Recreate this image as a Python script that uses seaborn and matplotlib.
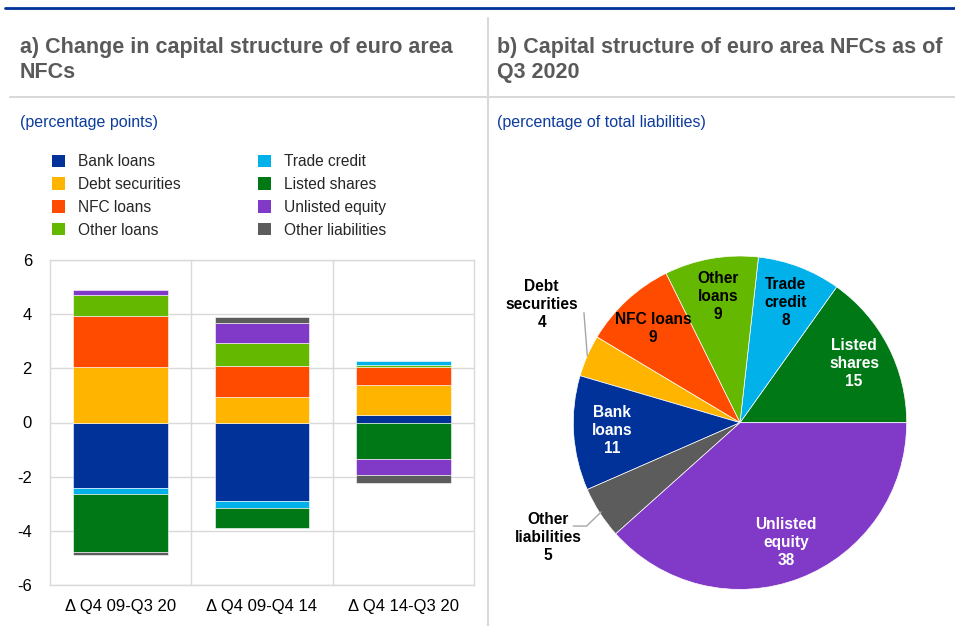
import matplotlib
import numpy as np
import pandas as pd
import seaborn as sns

matplotlib.use("Agg")
import matplotlib.pyplot as plt
from matplotlib.lines import Line2D
from matplotlib.patches import Patch


CATEGORIES = ["\u0394 Q4 09-Q3 20", "\u0394 Q4 09-Q4 14", "\u0394 Q4 14-Q3 20"]
SERIES = [
    "Bank loans", "Debt securities", "NFC loans", "Other loans",
    "Trade credit", "Listed shares", "Unlisted equity", "Other liabilities",
]
BANK_LOANS = [-2.43, -2.90, 0.27]
DEBT_SECURITIES = [2.05, 0.96, 1.11]
NFC_LOANS = [1.88, 1.14, 0.68]
OTHER_LOANS = [0.76, 0.84, 0.05]
TRADE_CREDIT = [-0.22, -0.24, 0.15]
LISTED_SHARES = [-2.14, -0.77, -1.36]
UNLISTED_EQUITY = [0.21, 0.73, -0.56]
OTHER_LIABILITIES = [-0.10, 0.22, -0.33]

PIE_NAMES = [
    "Listed shares", "Trade credit", "Other loans", "NFC loans",
    "Debt securities", "Bank loans", "Other liabilities", "Unlisted equity",
]
PIE_TEXT = [
    "Listed\nshares", "Trade\ncredit", "Other\nloans", "NFC loans",
    "Debt\nsecurities", "Bank\nloans", "Other\nliabilities", "Unlisted\nequity",
]
PIE_VALUES = [15, 8, 9, 9, 4, 11, 5, 38]

TITLE_A = ["a) Change in capital structure of euro area", "NFCs"]
TITLE_B = ["b) Capital structure of euro area NFCs as of", "Q3 2020"]

PALETTE = {
    "Bank loans": "#003299",
    "Debt securities": "#FFB400",
    "NFC loans": "#FF4B00",
    "Other loans": "#65B800",
    "Trade credit": "#00B1EA",
    "Listed shares": "#007816",
    "Unlisted equity": "#8139C7",
    "Other liabilities": "#5C5C5C",
}
WHITE_TEXT = {"Bank loans", "Listed shares", "Unlisted equity"}

sns.set_theme(style="whitegrid")
plt.rcParams["font.family"] = ["Liberation Sans", "DejaVu Sans"]
plt.rcParams["axes.unicode_minus"] = False

changes = pd.DataFrame({
    "Bank loans": BANK_LOANS,
    "Debt securities": DEBT_SECURITIES,
    "NFC loans": NFC_LOANS,
    "Other loans": OTHER_LOANS,
    "Trade credit": TRADE_CREDIT,
    "Listed shares": LISTED_SHARES,
    "Unlisted equity": UNLISTED_EQUITY,
    "Other liabilities": OTHER_LIABILITIES,
}, index=CATEGORIES)

fig = plt.figure(figsize=(9.55, 6.26), dpi=100)
fig.patch.set_facecolor("white")

# frame lines and headings
fig.add_artist(Line2D([5 / 955, 1], [1 - 8 / 626] * 2, color="#003299", lw=2))
fig.add_artist(Line2D([488 / 955] * 2, [0, 1 - 18 / 626], color="#D9D9D9", lw=1.5))
fig.add_artist(Line2D([10 / 955, 1], [1 - 97 / 626] * 2, color="#D9D9D9", lw=1.5))

title_kw = dict(fontsize=15.5, fontweight="bold", color="#5A5A5A", va="baseline", ha="left")
for i, (line_a, line_b) in enumerate(zip(TITLE_A, TITLE_B)):
    ybase = 1 - (53 + 25 * i) / 626
    fig.text(20 / 955, ybase, line_a, **title_kw)
    fig.text(497 / 955, ybase, line_b, **title_kw)
sub_kw = dict(fontsize=11.5, color="#0D3C9E", va="center", ha="left")
fig.text(20 / 955, 1 - 122 / 626, "(percentage points)", **sub_kw)
fig.text(497 / 955, 1 - 122 / 626, "(percentage of total liabilities)", **sub_kw)

# panel a: stacked bars
ax = fig.add_axes([50 / 955, 1 - 585 / 626, 424 / 955, 325 / 626])
x = np.arange(len(CATEGORIES))
pos_bottom = np.zeros(len(CATEGORIES))
neg_bottom = np.zeros(len(CATEGORIES))
for name in SERIES:
    vals = changes[name].to_numpy()
    bottoms = np.where(vals >= 0, pos_bottom, neg_bottom)
    ax.bar(x, vals, bottom=bottoms, width=0.67, color=PALETTE[name],
           edgecolor="white", linewidth=0.4, zorder=3)
    pos_bottom += np.where(vals >= 0, vals, 0)
    neg_bottom += np.where(vals < 0, vals, 0)

ax.set_xlim(-0.5, len(CATEGORIES) - 0.5)
ax.set_ylim(-6, 6)
ax.set_yticks(range(-6, 7, 2))
ax.set_xticks(x)
ax.set_xticklabels(CATEGORIES)
ax.set_xticks(x[:-1] + 0.5, minor=True)
ax.grid(False)
ax.grid(axis="y", which="major", color="#D9D9D9", lw=1, zorder=0)
ax.grid(axis="x", which="minor", color="#D9D9D9", lw=1, zorder=0)
ax.tick_params(axis="both", which="both", length=0, labelsize=12, colors="black")
ax.tick_params(axis="x", pad=10)
ax.tick_params(axis="y", pad=13)
ax.set_facecolor("white")
for spine in ax.spines.values():
    spine.set_color("#D9D9D9")
    spine.set_linewidth(1)

handles = [Patch(facecolor=PALETTE[n], edgecolor="none") for n in SERIES]
fig.legend(handles, SERIES, loc="upper left", bbox_to_anchor=(46 / 955, 1 - 148 / 626),
           ncol=2, frameon=False, fontsize=11.2, handlelength=0.8, handleheight=0.85,
           handletextpad=0.85, columnspacing=5.0, labelspacing=0.5, borderaxespad=0)

# panel b: pie
R = 166.7
pax = fig.add_axes([(740 - 1.25 * R) / 955, (626 - 422.7 - 1.25 * R) / 626,
                    2.5 * R / 955, 2.5 * R / 626])
wedges, _ = pax.pie(PIE_VALUES, colors=[PALETTE[n] for n in PIE_NAMES], startangle=0,
                    counterclock=True, wedgeprops=dict(edgecolor="white", linewidth=0.5))
pax.set_aspect("equal")

lab_kw = dict(fontsize=11.2, fontweight="bold", ha="center", va="center", linespacing=1.25)
for w, name, txt, val in zip(wedges, PIE_NAMES, PIE_TEXT, PIE_VALUES):
    mid = np.deg2rad((w.theta1 + w.theta2) / 2)
    label = f"{txt}\n{val}"
    color = "white" if name in WHITE_TEXT else "black"
    if name == "Debt securities":
        ex, ey = np.cos(mid), np.sin(mid)
        pax.add_line(Line2D([ex, ex - 0.02], [ey, 0.66], color="#A6A6A6", lw=1))
        pax.text(-1.19, 0.71, label, color="black", **lab_kw)
    elif name == "Other liabilities":
        ex, ey = 0.99 * np.cos(mid), 0.99 * np.sin(mid)
        pax.add_line(Line2D([ex, -0.92, -1.0], [ey, -0.62, -0.62], color="#A6A6A6", lw=1))
        pax.text(-1.15, -0.69, label, color="black", **lab_kw)
    else:
        r = 0.77
        pax.text(r * np.cos(mid), r * np.sin(mid), label, color=color, **lab_kw)

fig.savefig("out.png", dpi=100, facecolor="white")
